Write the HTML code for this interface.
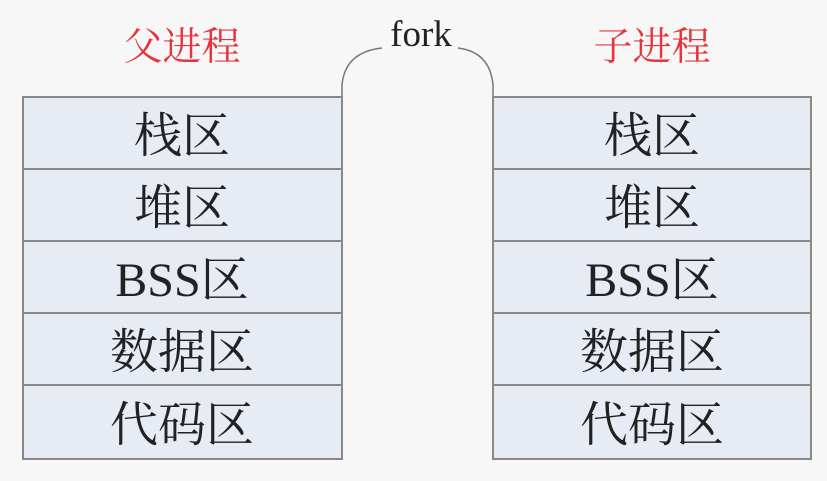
<!DOCTYPE html>
<html><head><meta charset="utf-8"><style>
html,body{margin:0;padding:0;background:#f7f7f7;}
svg{display:block}
</style></head><body>
<svg width="827" height="481" viewBox="0 0 827 481" xmlns="http://www.w3.org/2000/svg">
<rect width="827" height="481" fill="#f7f7f7"/>
<g font-family="'Liberation Serif','Noto Serif CJK SC',serif" text-anchor="middle">
<text x="182" y="60" font-size="39" fill="#e8343c">父进程</text>
<text x="652" y="60" font-size="39" fill="#e8343c">子进程</text>
<text x="421" y="46" font-size="37" fill="#222">fork</text>
</g>
<path d="M342,97 L342,85 Q345,52 382,48 M458,48 Q490,52 493,85 L493,97" fill="none" stroke="#777" stroke-width="1.5"/>
<g stroke="#888" stroke-width="2" fill="#e6ebf4">
<rect x="23" y="97" width="319" height="362"/>
<rect x="493" y="97" width="318" height="362"/>
<path d="M23,169H342M23,241H342M23,313H342M23,385H342M493,169H811M493,241H811M493,313H811M493,385H811" fill="none"/>
</g>
<g font-family="'Liberation Serif','Noto Serif CJK SC',serif" font-size="48" fill="#222" text-anchor="middle">
<text x="182" y="152">栈区</text><text x="182" y="224">堆区</text><text x="182" y="296">BSS区</text><text x="182" y="368">数据区</text><text x="182" y="441">代码区</text>
<text x="652" y="152">栈区</text><text x="652" y="224">堆区</text><text x="652" y="296">BSS区</text><text x="652" y="368">数据区</text><text x="652" y="441">代码区</text>
</g>
</svg>
</body></html>
